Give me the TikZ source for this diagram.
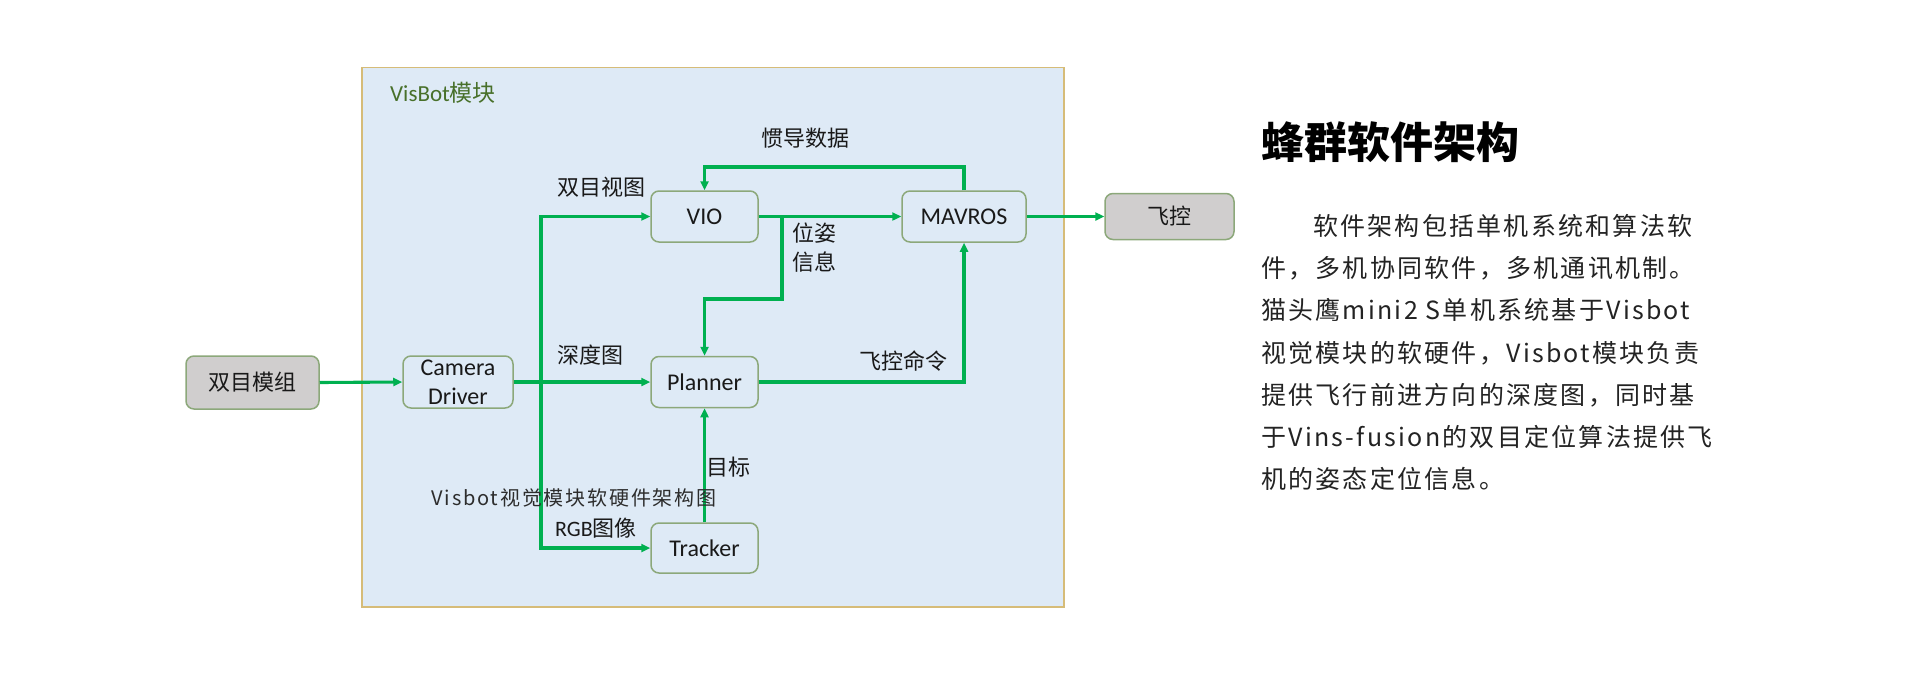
\documentclass[tikz,border=0pt]{standalone}
\usepackage{fontspec}
\setmainfont{Noto Sans CJK SC}
\newfontfamily\latf{Carlito}
\newfontfamily\bodyf{Noto Sans CJK SC}[LetterSpace=9]
\usetikzlibrary{arrows.meta,calc}
\definecolor{bluebg}{RGB}{222,234,246}
\definecolor{goldc}{RGB}{214,188,120}
\definecolor{boxc}{RGB}{140,168,122}
\definecolor{grayf}{RGB}{208,206,206}
\definecolor{grn}{RGB}{0,176,80}
\definecolor{txt}{RGB}{25,25,25}
\definecolor{bodyc}{RGB}{35,35,35}
\definecolor{capc}{RGB}{45,45,45}
\definecolor{modc}{RGB}{72,112,42}
\begin{document}
\begin{tikzpicture}[x=1pt,y=-1pt,
  box/.style={draw=boxc, line width=1.5pt, rounded corners=8pt, fill=bluebg,
    minimum width=107pt, minimum height=51pt, inner sep=0pt,
    font=\latf\fontsize{24}{29}\selectfont, text=txt, align=center},
  gbox/.style={box, fill=grayf, font=\fontsize{22}{26}\selectfont},
  arr/.style={draw=grn, line width=3.1pt, -{Triangle[length=9pt,width=8pt]}},
  lbl/.style={inner sep=0pt, text=txt, font=\fontsize{22}{26}\selectfont},
  bodytxt/.style={anchor=base west, inner sep=0pt, text=bodyc, font=\bodyf\fontsize{25}{30}\selectfont},
]
\fill[white] (0,0) rectangle (1920,677);
\useasboundingbox (0,0) rectangle (1920,677);

% module box
\node[draw=goldc, line width=1.5pt, fill=bluebg, minimum width=702pt, minimum height=539pt,
      inner sep=0pt, anchor=north west] (mod) at (361,67) {};
\node[anchor=west, inner sep=0pt, text=modc, font=\fontsize{23}{26}\selectfont] (modl) at (390,93) {{\latf VisBot}模块};

% boxes
\node[gbox, minimum width=133pt, minimum height=53pt] (sm) at (252.5,382.5) {双目模组};
\node[box, minimum width=110pt, minimum height=52pt] (cam) at (458,382) {Camera\\Driver};
\node[box] (vio) at (704.5,216.5) {VIO};
\node[box, minimum width=124pt] (mav) at (964,216.5) {MAVROS};
\node[gbox, minimum width=129pt, minimum height=46pt] (fk) at (1169.5,216.5) {飞控};
\node[box] (pl) at (704.5,382) {Planner};
\node[box, minimum height=50pt] (tr) at (704.5,548) {Tracker};

% connectors
\draw[arr] (sm.east) -- (cam.west);
\draw[arr] (cam.east) -- (pl.west);
\coordinate (jx) at (541,382);
\draw[arr] (jx) |- (vio.west);
\draw[arr] (jx) |- (tr.west);
\draw[arr] (vio.east) -- (mav.west);
\coordinate (pb) at (782,216.5);
\coordinate (pk) at (782,299);
\draw[arr] (pb) -- (pk) -| (pl.north);
\coordinate (fbt) at (964,167);
\draw[arr] (mav.north) -- (fbt) -| (vio.north);
\draw[arr] (pl.east) -| (mav.south);
\draw[arr] (tr.north) -- (pl.south);
\draw[arr] (mav.east) -- (fk.west);

% labels
\node[lbl] (l-imu) at (805,138) {惯导数据};
\node[lbl] (l-st) at (601,187) {双目视图};
\node[lbl] (l-pz1) at (814,233) {位姿};
\node[lbl] (l-pz2) at (814,262) {信息};
\node[lbl] (l-dep) at (590,355) {深度图};
\node[lbl] (l-cmd) at (903,361) {飞控命令};
\node[lbl] (l-tgt) at (728,467) {目标};
\node[inner sep=0pt, text=capc, font=\bodyf\fontsize{20}{24}\selectfont] (cap) at (574,498) {Visbot视觉模块软硬件架构图};
\node[lbl] (l-rgb) at (596,528) {{\latf RGB}图像};

% right text
\node[anchor=base west, inner sep=0pt, text=black, font=\fontsize{43}{50}\selectfont\bfseries] (ttl) at (1261,158) {蜂群软件架构};
\node[bodytxt] (b1) at (1313,235) {软件架构包括单机系统和算法软};
\node[bodytxt] (b2) at (1261,277) {件，多机协同软件，多机通讯机制。};
\node[bodytxt] (b3) at (1261,319) {猫头鹰mini2 S单机系统基于Visbot};
\node[bodytxt] (b4) at (1261,362) {视觉模块的软硬件，Visbot模块负责};
\node[bodytxt] (b5) at (1261,404) {提供飞行前进方向的深度图，同时基};
\node[bodytxt] (b6) at (1261,446) {于Vins-fusion的双目定位算法提供飞};
\node[bodytxt] (b7) at (1261,488) {机的姿态定位信息。};
\end{tikzpicture}
\end{document}
